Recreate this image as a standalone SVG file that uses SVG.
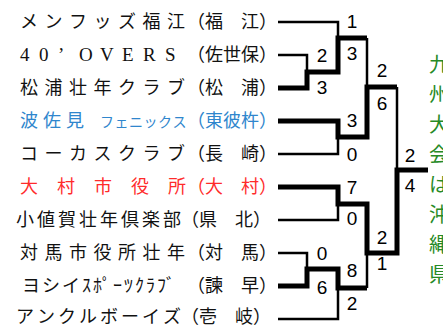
<svg xmlns="http://www.w3.org/2000/svg" width="443" height="328" viewBox="0 0 443 328">
<style>
.t{font-family:"Noto Sans CJK JP","Liberation Sans",sans-serif;font-size:18px;fill:#111}
.lat{font-family:"Liberation Serif","Noto Sans CJK JP",serif;font-size:19px;fill:#111}
.blue{fill:#2f86cd}
.red{fill:#ff2b2b}
.sc{font-family:"Liberation Sans","Noto Sans CJK JP",sans-serif;font-size:19px;fill:#000;text-anchor:middle}
.note{font-family:"Noto Sans CJK JP",sans-serif;font-size:20px;fill:#268a26}
.thin{fill:none;stroke:#000;stroke-width:2.5}
.thick{fill:none;stroke:#000;stroke-width:5}
</style>
<rect width="443" height="328" fill="#fff"/>
<g id="team-fukue"><text class="t" x="20 44.5 69 93.5 118 142.5 167" y="28">メンフッズ福江</text><text class="t" x="187" y="28">（福　江）</text></g>
<g id="team-40overs"><text class="lat" x="20 39 58 79 100 122 143 165" y="61">40’OVERS</text><text class="t" x="187" y="61">（佐世保）</text></g>
<g id="team-matsuura"><text class="t" x="20 44.5 69 93.5 118 142.5 167" y="94">松浦壮年クラブ</text><text class="t" x="187" y="94">（松　浦）</text></g>
<g id="team-hasami"><text class="t blue" x="20 43 66" y="127">波佐見</text><text class="t blue" x="100 114.5 129 143.5 158 172.5" y="127" style="font-size:14px">フェニックス</text><text class="t blue" x="187" y="127">（東彼杵）</text></g>
<g id="team-kokas"><text class="t" x="20 44.5 69 93.5 118 142.5 167" y="160">コーカスクラブ</text><text class="t" x="187" y="160">（長　崎）</text></g>
<g id="team-omura"><text class="t red" x="20 57 94 131 168" y="193">大村市役所</text><text class="t red" x="187" y="193">（大　村）</text></g>
<g id="team-ojika"><text class="t" x="16 37 58 79 100 121 142 163" y="226">小値賀壮年倶楽部</text><text class="t" x="181" y="226">（県　北）</text></g>
<g id="team-tsushima"><text class="t" x="20 44.5 69 93.5 118 142.5 167" y="259">対馬市役所壮年</text><text class="t" x="187" y="259">（対　馬）</text></g>
<g id="team-yoshii"><text class="t" x="22" y="292" letter-spacing="2">ヨシイｽﾎﾟｰﾂｸﾗﾌﾞ</text><text class="t" x="187" y="292">（諫　早）</text></g>
<g id="team-ankle"><text class="t" x="16 37 58 79 100 121 142 163" y="323">アンクルボーイズ</text><text class="t" x="181" y="323">（壱　岐）</text></g>
<g id="connectors">
<path class="thin" d="M278 22H338V38"/>
<path class="thin" d="M278 55H307V72"/>
<path class="thin" d="M278 154H338V137"/>
<path class="thin" d="M367 38V87"/>
<path class="thin" d="M397 87V170"/>
<path class="thin" d="M278 220H338V204"/>
<path class="thin" d="M278 253H307V269"/>
<path class="thin" d="M278 319H338V288"/>
<path class="thin" d="M367 288V253"/>
<path class="thick" d="M278 88H307V72H338V38H367"/>
<path class="thick" d="M278 121H338V137H367V87H397"/>
<path class="thick" d="M278 187H338V204H367V253H397V170H428"/>
<path class="thick" d="M278 286H307V269H338V288H367"/>
</g>
<g id="scores">
<text class="sc" x="352" y="28">1</text>
<text class="sc" x="352" y="60">3</text>
<text class="sc" x="322" y="62">2</text>
<text class="sc" x="322" y="94">3</text>
<text class="sc" x="382" y="77">2</text>
<text class="sc" x="382" y="110">6</text>
<text class="sc" x="352" y="127">3</text>
<text class="sc" x="352" y="161">0</text>
<text class="sc" x="410" y="162">2</text>
<text class="sc" x="410" y="192">4</text>
<text class="sc" x="352" y="194">7</text>
<text class="sc" x="352" y="225">0</text>
<text class="sc" x="382" y="244">2</text>
<text class="sc" x="382" y="270">1</text>
<text class="sc" x="322" y="260">0</text>
<text class="sc" x="322" y="294">6</text>
<text class="sc" x="352" y="277">8</text>
<text class="sc" x="352" y="310">2</text>
</g>
<g id="note">
<text class="note" x="429" y="72">九</text>
<text class="note" x="429" y="102">州</text>
<text class="note" x="429" y="132">大</text>
<text class="note" x="429" y="162">会</text>
<text class="note" x="429" y="192">は</text>
<text class="note" x="429" y="222">沖</text>
<text class="note" x="429" y="252">縄</text>
<text class="note" x="429" y="282">県</text>
</g>
</svg>
